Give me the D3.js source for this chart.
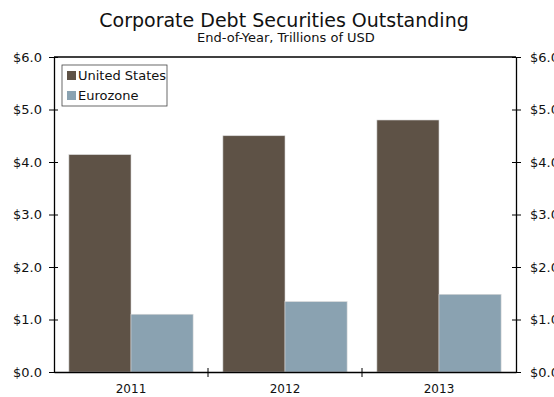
<!DOCTYPE html>
<html><head><meta charset="utf-8">
<script src="https://cdn.jsdelivr.net/npm/d3@7"></script>
<style>body{margin:0;background:#fff;} text{font-family:"DejaVu Sans",Verdana,sans-serif;}</style>
</head><body><svg id="c" width="554" height="397"></svg>
<script>
const categories = ["2011","2012","2013"];
const seriesNames = ["United States","Eurozone"];
const usValues = [4.14, 4.50, 4.80];
const euValues = [1.10, 1.34, 1.48];
const yTicks = [0,1,2,3,4,5,6];
const colors = ["#5e5246","#8aa2b1"];

const svg = d3.select("#c");
const m = {l:54, r:38, t:57, b:25};
const W = 554, H = 397;
const iw = W - m.l - m.r, ih = H - m.t - m.b;
const g = svg.append("g").attr("transform",`translate(${m.l},${m.t})`);
const x = d3.scaleBand().domain(categories).range([0,iw]).paddingInner(0).paddingOuter(0);
const x1 = d3.scaleBand().domain(seriesNames).range([0,x.bandwidth()]).paddingOuter(0.24).paddingInner(0);
const y = d3.scaleLinear().domain([0,6]).range([ih,0]);
const data = [usValues, euValues];

categories.forEach((c,i)=>{
  seriesNames.forEach((s,j)=>{
    g.append("rect").attr("x",x(c)+x1(s)).attr("y",y(data[j][i]))
     .attr("width",x1.bandwidth()).attr("height",ih-y(data[j][i]))
     .attr("fill",colors[j]).attr("stroke","#d8d8d8").attr("stroke-width",0.6);
  });
});

const fmt = d => "$" + d3.format(".1f")(d);
const yl = g.append("g").call(d3.axisLeft(y).tickValues(yTicks).tickFormat(fmt).tickSizeInner(5).tickSizeOuter(0));
yl.selectAll(".tick line").attr("x2",4).attr("x1",-5);
const yr = g.append("g").attr("transform",`translate(${iw},0)`).call(d3.axisRight(y).tickValues(yTicks).tickFormat(fmt).tickSizeInner(5).tickSizeOuter(0));
yr.selectAll(".tick line").attr("x1",-4).attr("x2",5);
[yl,yr].forEach(a=>{a.selectAll("text").attr("font-size",13).attr("fill","#111").attr("font-family","DejaVu Sans, Verdana, sans-serif");a.select(".domain").attr("stroke","#000").attr("stroke-width",1.3);a.selectAll(".tick line").attr("stroke","#000");});
yl.selectAll("text").attr("x",-12);
yr.selectAll("text").attr("x",14);

const xa = g.append("g").attr("transform",`translate(0,${ih})`).call(d3.axisBottom(x).tickSize(0).tickPadding(12));
xa.selectAll("text").attr("font-size",12).attr("fill","#111").attr("font-family","DejaVu Sans, Verdana, sans-serif");
xa.select(".domain").attr("stroke","#000").attr("stroke-width",1.3);
const bounds = categories.slice(1).map(c=>x(c));
g.selectAll(".bt").data(bounds).enter().append("line").attr("x1",d=>d).attr("x2",d=>d).attr("y1",ih-4).attr("y2",ih+5).attr("stroke","#000");
g.append("line").attr("x1",0).attr("x2",iw).attr("y1",0).attr("y2",0).attr("stroke","#000").attr("stroke-width",1.3);

const lg = g.append("g").attr("transform","translate(8,8)");
lg.append("rect").attr("width",105).attr("height",41).attr("fill","#fff").attr("stroke","#444").attr("stroke-width",0.8);
seriesNames.forEach((s,j)=>{
  lg.append("rect").attr("x",5).attr("y",6+j*20).attr("width",9).attr("height",9).attr("fill",colors[j]);
  lg.append("text").attr("x",16).attr("y",15+j*20).attr("font-size",13).attr("fill","#111").text(s);
});

svg.append("text").attr("x",284).attr("y",27).attr("text-anchor","middle").attr("font-size",19).attr("fill","#111").text("Corporate Debt Securities Outstanding");
svg.append("text").attr("x",286).attr("y",42).attr("text-anchor","middle").attr("font-size",13).attr("fill","#111").text("End-of-Year, Trillions of USD");
</script></body></html>
